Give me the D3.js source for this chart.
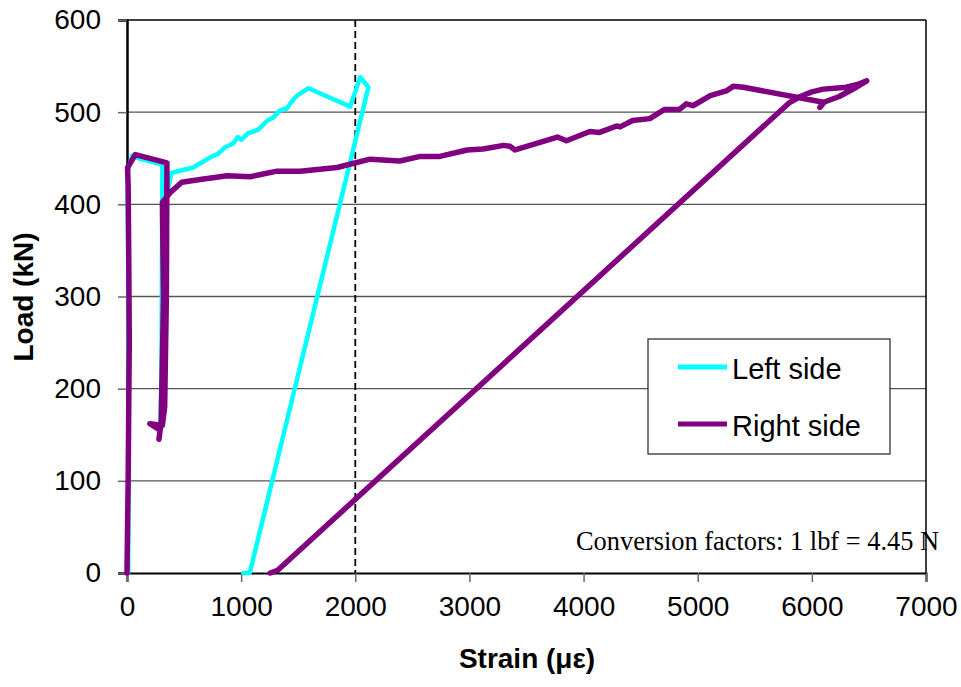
<!DOCTYPE html>
<html><head><meta charset="utf-8">
<script src="https://cdn.jsdelivr.net/npm/d3@7/dist/d3.min.js"></script>
<style>body{margin:0;background:#fff}svg{display:block}</style>
</head><body>
<script>
// ---- data ----
const xTicks = [0,1000,2000,3000,4000,5000,6000,7000];
const yTicks = [0,100,200,300,400,500,600];
const seriesNames = ["Left side","Right side"];
const leftSide = [
  [10,0],[15,150],[12,300],[5,435],[46,453],[100,450],[310,443],[300,160],[290,155],[320,300],
  [330,400],[390,434],[480,437],[580,440],[730,451],[800,455],[860,462],[930,466],[970,473],[1000,470],[1060,477],[1150,481],
  [1230,491],[1280,494],[1340,502],[1400,504],[1440,511],[1490,518],[1590,526],[1955,506],[2043,538],[2115,527],[1075,0],[1020,0]
];
const rightSide = [
  [0,0],[10,100],[20,250],[15,350],[10,420],[5,440],[30,445],[73,454],[350,445],[345,300],
  [330,180],[310,160],[200,162],[290,155],[280,145],[300,165],[320,300],[310,402],[380,413],
  [480,424],[640,427],[880,431],[1080,430],[1315,436],[1517,436],[1840,440],[2130,449],[2390,447],
  [2570,452],[2740,452],[2980,459],[3120,460],[3300,464],[3355,463],[3400,459],[3560,465],
  [3770,473],[3850,469],[4055,479],[4140,478],[4290,485],[4320,484],[4430,491],[4580,493],
  [4710,503],[4840,503],[4900,509],[4960,507],[5110,518],[5250,523],[5310,528],[5400,527],
  [6090,511],[6070,505],[6110,511],[6240,517],[6390,527],[6480,534],[6400,530],[6300,527],
  [6200,526],[6100,525],[6000,522],[5900,517],[5800,510],[1320,3],[1255,0]
];
const markerStrain = 2000;
const note = "Conversion factors: 1 lbf = 4.45 N";
const xTitle = "Strain (με)";
const yTitle = "Load (kN)";

// ---- layout ----
const W = 961, H = 687;
const L = 127, R = 926, T = 20, B = 573;
const svg = d3.select("body").append("svg").attr("width", W).attr("height", H);
const x = d3.scaleLinear().domain([0,7000]).range([L,R]);
const y = d3.scaleLinear().domain([0,600]).range([B,T]);
const sans = "'Liberation Sans', Arial, sans-serif";

// gridlines
svg.append("g").selectAll("line").data(yTicks.filter(v => v>0 && v<600)).join("line")
  .attr("x1", L).attr("x2", R).attr("y1", d=>y(d)).attr("y2", d=>y(d))
  .attr("stroke", "#555").attr("stroke-width", 1.3);

// border top/right
svg.append("line").attr("x1",L).attr("x2",R).attr("y1",T).attr("y2",T).attr("stroke","#000").attr("stroke-width",1.5);
svg.append("line").attr("x1",R).attr("x2",R).attr("y1",T).attr("y2",B).attr("stroke","#000").attr("stroke-width",1.5);

// axes
const xAxis = d3.axisBottom(x).tickValues(xTicks).tickSize(9).tickPadding(14).tickFormat(d3.format("d"));
const gx = svg.append("g").attr("transform", `translate(0,${B})`).call(xAxis);
gx.select(".domain").attr("stroke","#000").attr("stroke-width",2);
gx.selectAll(".tick line").attr("stroke","#666").attr("stroke-width",1.5);
gx.selectAll(".tick text").attr("font-family",sans).attr("font-size",28).attr("fill","#000");

const yAxis = d3.axisLeft(y).tickValues(yTicks).tickSize(9).tickPadding(17).tickFormat(d3.format("d"));
const gy = svg.append("g").attr("transform", `translate(${L},0)`).call(yAxis);
gy.select(".domain").attr("stroke","#000").attr("stroke-width",2.5);
gy.selectAll(".tick line").attr("stroke","#666").attr("stroke-width",1.5);
gy.selectAll(".tick text").attr("font-family",sans).attr("font-size",28).attr("fill","#000");

// dashed marker
svg.append("line").attr("x1",x(markerStrain)).attr("x2",x(markerStrain)).attr("y1",T).attr("y2",B)
  .attr("stroke","#000").attr("stroke-width",1.8).attr("stroke-dasharray","7,4");

// series
const line = d3.line().x(d=>x(d[0])).y(d=>y(d[1]));
svg.append("path").datum(leftSide).attr("d", line).attr("fill","none")
  .attr("stroke","#00FFFF").attr("stroke-width",4.5).attr("stroke-linejoin","round").attr("stroke-linecap","round");
svg.append("path").datum(rightSide).attr("d", line).attr("fill","none")
  .attr("stroke","#800080").attr("stroke-width",5.5).attr("stroke-linejoin","round").attr("stroke-linecap","round");

// titles
svg.append("text").attr("x", 527).attr("y", 668).attr("text-anchor","middle")
  .attr("font-family",sans).attr("font-weight","bold").attr("font-size",28).text(xTitle);
svg.append("text").attr("transform","translate(33,297) rotate(-90)").attr("text-anchor","middle")
  .attr("font-family",sans).attr("font-weight","bold").attr("font-size",28).text(yTitle);

// note
svg.append("text").attr("x",576).attr("y",550)
  .attr("font-family","'Liberation Serif','Times New Roman',serif").attr("font-size",26.4).text(note);

// legend
const lg = svg.append("g");
lg.append("rect").attr("x",648).attr("y",339).attr("width",242).attr("height",115)
  .attr("fill","#fff").attr("stroke","#333").attr("stroke-width",1.3);
const colors = ["#00FFFF","#800080"];
seriesNames.forEach((n,i) => {
  const yy = 367 + i*57;
  lg.append("line").attr("x1",678).attr("x2",727).attr("y1",yy).attr("y2",yy)
    .attr("stroke",colors[i]).attr("stroke-width",5);
  lg.append("text").attr("x",732).attr("y",yy+12).attr("font-family",sans).attr("font-size",29).text(n);
});
</script>
</body></html>
